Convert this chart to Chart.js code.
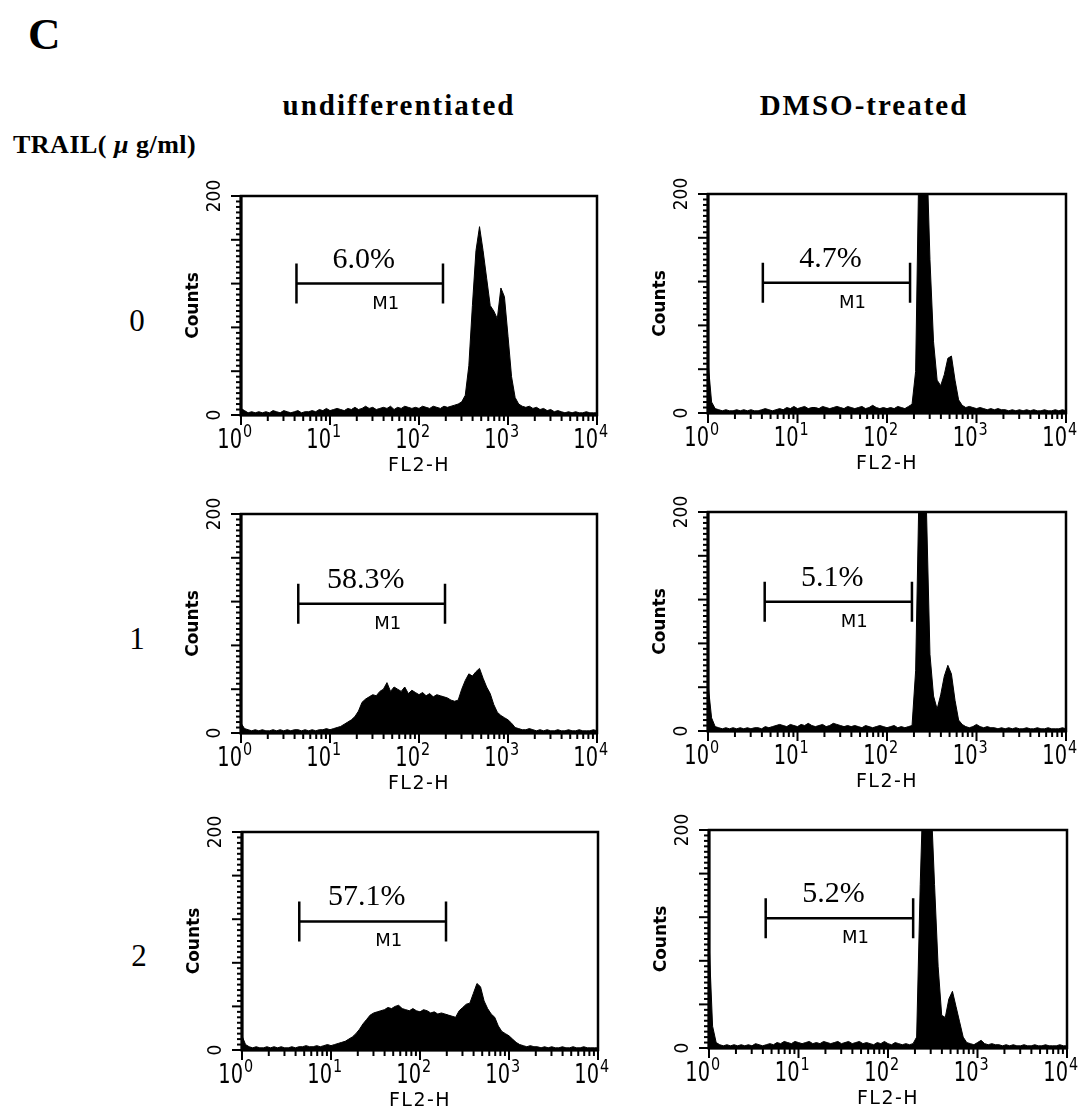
<!DOCTYPE html>
<html>
<head>
<meta charset="utf-8">
<script src="https://cdn.jsdelivr.net/npm/chart.js"></script>
<style>
  body { margin: 0; background: #fff; }
  #fig { position: relative; width: 1082px; height: 1107px; background: #fff; overflow: hidden; }
  .txt { position: absolute; color: #000; white-space: nowrap; line-height: 1; font-family: "Liberation Serif", "Times New Roman", serif; }
  .bold { font-weight: bold; }
  canvas { position: absolute; }
</style>
</head>
<body>
<div id="fig">
  <div class="txt bold" style="left:28px; top:12px; font-size:45px;">C</div>
  <div class="txt bold" style="left:399px; top:91px; font-size:29px; letter-spacing:2px; transform:translateX(-50%);">undifferentiated</div>
  <div class="txt bold" style="left:864px; top:91px; font-size:29px; letter-spacing:2px; transform:translateX(-50%);">DMSO-treated</div>
  <div class="txt bold" style="left:13px; top:132px; font-size:26px; letter-spacing:0.5px;">TRAIL( <i>μ</i> g/ml)</div>
  <div class="txt" style="left:137px; top:305px; font-size:31px; transform:translateX(-50%);">0</div>
  <div class="txt" style="left:137px; top:623px; font-size:31px; transform:translateX(-50%);">1</div>
  <div class="txt" style="left:139px; top:940px; font-size:31px; transform:translateX(-50%);">2</div>
</div>
<script>
// === Vị trí bin (log10 của FL2-H)
const binDecades = [
  0.00, 0.04, 0.08, 0.12, 0.16, 0.20, 0.24, 0.28, 0.32, 0.36,
  0.40, 0.44, 0.48, 0.52, 0.56, 0.60, 0.64, 0.68, 0.72, 0.76,
  0.80, 0.84, 0.88, 0.92, 0.96, 1.00, 1.04, 1.08, 1.12, 1.16,
  1.20, 1.24, 1.28, 1.32, 1.36, 1.40, 1.44, 1.48, 1.52, 1.56,
  1.60, 1.64, 1.68, 1.72, 1.76, 1.80, 1.84, 1.88, 1.92, 1.96,
  2.00, 2.04, 2.08, 2.12, 2.16, 2.20, 2.24, 2.28, 2.32, 2.36,
  2.40, 2.44, 2.48, 2.52, 2.56, 2.60, 2.64, 2.68, 2.72, 2.76,
  2.80, 2.84, 2.88, 2.92, 2.96, 3.00, 3.04, 3.08, 3.12, 3.16,
  3.20, 3.24, 3.28, 3.32, 3.36, 3.40, 3.44, 3.48, 3.52, 3.56,
  3.60, 3.64, 3.68, 3.72, 3.76, 3.80, 3.84, 3.88, 3.92, 3.96,
  4.00
];
const fl2h = binDecades.map((d) => Math.pow(10, d));

// === Counts
const countsUndiff0 = [
  6, 4, 2, 3, 2, 3, 2, 3, 2, 4,
  3, 2, 4, 3, 2, 3, 4, 2, 3, 3,
  4, 3, 5, 4, 6, 4, 5, 6, 5, 4,
  6, 5, 7, 5, 6, 8, 6, 7, 5, 6,
  7, 6, 8, 5, 7, 6, 8, 7, 6, 7,
  6, 8, 7, 6, 8, 7, 6, 8, 7, 8,
  9, 10, 12, 18, 45, 100, 150, 172, 150, 125,
  100, 95, 88, 116, 108, 72, 35, 16, 10, 8,
  7, 8, 6, 7, 5, 6, 4, 5, 3, 4,
  3, 2, 3, 2, 3, 2, 2, 3, 2, 2,
  2
];
const countsDmso0 = [
  47, 10, 4, 3, 2, 3, 2, 2, 3, 2,
  3, 2, 3, 2, 2, 3, 4, 3, 2, 3,
  4, 3, 5, 4, 6, 4, 5, 6, 4, 5,
  5, 4, 6, 5, 4, 5, 6, 5, 4, 6,
  5, 4, 5, 6, 4, 5, 7, 5, 4, 5,
  4, 5, 4, 6, 5, 4, 6, 8, 38, 250,
  290, 250, 140, 65, 30, 25, 35, 50, 52, 30,
  12, 7, 5, 6, 5, 4, 5, 4, 3, 4,
  3, 4, 3, 3, 2, 3, 2, 3, 2, 3,
  2, 3, 2, 2, 3, 2, 2, 3, 2, 3,
  2
];
const countsUndiff1 = [
  9, 4, 3, 2, 3, 2, 3, 2, 2, 3,
  2, 3, 2, 3, 2, 3, 3, 2, 3, 2,
  3, 2, 3, 3, 4, 3, 4, 5, 6, 8,
  10, 12, 15, 20, 28, 31, 33, 35, 34, 38,
  40, 46, 38, 42, 40, 38, 42, 36, 39, 37,
  35, 37, 34, 36, 33, 35, 34, 33, 32, 30,
  29, 30, 40, 48, 54, 52, 56, 59, 50, 42,
  36, 26, 19, 16, 14, 12, 9, 5, 4, 3,
  3, 4, 3, 2, 3, 2, 3, 2, 2, 3,
  2, 2, 3, 2, 2, 3, 2, 2, 2, 3,
  2
];
const countsDmso1 = [
  43, 12, 4, 3, 2, 3, 2, 3, 2, 3,
  2, 3, 2, 3, 3, 2, 4, 3, 4, 5,
  6, 5, 4, 6, 5, 4, 6, 5, 7, 5,
  4, 5, 6, 4, 5, 7, 6, 5, 4, 5,
  4, 5, 4, 3, 5, 4, 3, 4, 5, 4,
  3, 4, 5, 3, 4, 3, 4, 5, 55, 230,
  280, 205, 70, 32, 20, 33, 50, 60, 52, 28,
  10, 6, 4, 3, 4, 6, 4, 3, 4, 3,
  3, 2, 3, 2, 3, 2, 3, 2, 2, 3,
  2, 2, 3, 2, 2, 3, 2, 2, 2, 3,
  2
];
const countsUndiff2 = [
  13, 5, 3, 2, 3, 2, 2, 3, 2, 3,
  2, 3, 2, 2, 3, 2, 3, 3, 4, 3,
  3, 4, 3, 4, 5, 4, 5, 6, 7, 8,
  10, 12, 15, 19, 24, 28, 32, 34, 35, 36,
  37, 39, 38, 40, 41, 38, 37, 36, 38, 36,
  35, 37, 36, 34, 35, 33, 34, 33, 32, 31,
  30, 36, 39, 42, 43, 52, 61, 58, 45, 38,
  33, 30, 22, 17, 15, 13, 10, 7, 5, 4,
  3, 4, 3, 3, 2, 3, 2, 3, 2, 2,
  3, 2, 2, 3, 2, 2, 3, 2, 2, 2,
  2
];
const countsDmso2 = [
  99, 20, 5, 3, 2, 3, 2, 3, 2, 3,
  2, 3, 2, 4, 3, 2, 3, 4, 3, 5,
  4, 6, 5, 4, 6, 5, 4, 5, 6, 4,
  5, 4, 6, 5, 4, 5, 6, 4, 5, 6,
  4, 5, 6, 4, 5, 4, 3, 5, 4, 6,
  4, 3, 5, 4, 3, 4, 3, 4, 10, 150,
  260, 250, 230, 150, 75, 30, 28, 45, 52, 38,
  24, 10, 5, 4, 3, 5, 7, 4, 3, 4,
  3, 3, 2, 3, 2, 3, 2, 2, 3, 2,
  2, 3, 2, 2, 3, 2, 2, 2, 3, 2,
  2
];

// === Marker M1
const gatePercent = ["6.0%", "4.7%", "58.3%", "5.1%", "57.1%", "5.2%"];
const gateStart = [4.2, 4.1, 4.4, 4.3, 4.4, 4.3];
const gateEnd = [186, 181, 196, 190, 196, 191];
const gateLevel = [120, 119, 118, 118, 118, 119];

// === Nhãn trục
const xDecades = [1, 10, 100, 1000, 10000];
const xDecadeExp = ["0", "1", "2", "3", "4"];
const xMinorSteps = [2, 3, 4, 5, 6, 7, 8, 9];
const yLabelValues = [0, 200];
const yLabelTexts = ["0", "200"];

const panelCounts = [countsUndiff0, countsDmso0, countsUndiff1, countsDmso1, countsUndiff2, countsDmso2];

// vùng vẽ của từng ô (pixel trên trang)
const panelBoxes = [
  { left: 241, top: 196, right: 597, bottom: 415 },
  { left: 708, top: 194, right: 1066, bottom: 413 },
  { left: 241, top: 514, right: 597, bottom: 733 },
  { left: 708, top: 512, right: 1066, bottom: 731 },
  { left: 242, top: 832, right: 598, bottom: 1050 },
  { left: 709, top: 830, right: 1067, bottom: 1048 },
];
const PAD = { left: 70, top: 24, right: 26, bottom: 64 };
const SANS = '"DejaVu Sans", "Liberation Sans", sans-serif';
const SERIF = '"Liberation Serif", "Times New Roman", serif';

function squeezeText(ctx, text, x, y, sx, align) {
  ctx.save();
  ctx.translate(x, y);
  ctx.scale(sx, 1);
  ctx.textAlign = align;
  ctx.fillText(text, 0, 0);
  ctx.restore();
}

function makeAxesPlugin(idx) {
  return {
    id: "facsAxes" + idx,
    afterDraw(chart) {
      const ctx = chart.ctx;
      const a = chart.chartArea;
      const x = chart.scales.x;
      const y = chart.scales.y;
      ctx.save();
      ctx.strokeStyle = "#000";
      ctx.fillStyle = "#000";

      // khung
      ctx.lineWidth = 2.5;
      ctx.strokeRect(a.left, a.top, a.right - a.left, a.bottom - a.top);
      ctx.lineWidth = 3;
      ctx.beginPath();
      ctx.moveTo(a.left, a.top);
      ctx.lineTo(a.left, a.bottom);
      ctx.lineTo(a.right, a.bottom);
      ctx.stroke();

      // trục x: vạch log
      ctx.lineWidth = 2;
      xDecades.forEach((dec, k) => {
        const px = x.getPixelForValue(dec);
        ctx.beginPath();
        ctx.moveTo(px, a.bottom);
        ctx.lineTo(px, a.bottom + 10);
        ctx.stroke();
        if (k < xDecades.length - 1) {
          xMinorSteps.forEach((m) => {
            const pm = x.getPixelForValue(m * dec);
            ctx.beginPath();
            ctx.moveTo(pm, a.bottom);
            ctx.lineTo(pm, a.bottom + 6);
            ctx.stroke();
          });
        }
        ctx.textBaseline = "alphabetic";
        ctx.font = "27px " + SANS;
        squeezeText(ctx, "10", px + 1, a.bottom + 33, 0.72, "right");
        ctx.font = "18px " + SANS;
        squeezeText(ctx, xDecadeExp[k], px + 2, a.bottom + 22, 0.8, "left");
      });
      ctx.font = "19px " + SANS;
      ctx.textAlign = "center";
      if ("letterSpacing" in ctx) ctx.letterSpacing = "1.5px";
      ctx.fillText("FL2-H", (a.left + a.right) / 2, a.bottom + 56);
      if ("letterSpacing" in ctx) ctx.letterSpacing = "0px";

      // trục y
      ctx.lineWidth = 2;
      for (let v = 0; v <= 200; v += 5) {
        const py = y.getPixelForValue(v);
        const len = v % 40 === 0 ? 10 : 5;
        ctx.beginPath();
        ctx.moveTo(a.left, py);
        ctx.lineTo(a.left - len, py);
        ctx.stroke();
      }
      yLabelValues.forEach((v, k) => {
        const py = y.getPixelForValue(v);
        ctx.save();
        ctx.translate(a.left - 26, py);
        ctx.rotate(-Math.PI / 2);
        ctx.scale(0.85, 1);
        ctx.font = "20px " + SANS;
        ctx.textAlign = "center";
        ctx.textBaseline = "middle";
        ctx.fillText(yLabelTexts[k], 0, 0);
        ctx.restore();
      });
      ctx.save();
      ctx.translate(a.left - 47, (a.top + a.bottom) / 2);
      ctx.rotate(-Math.PI / 2);
      ctx.font = "bold 17px " + SANS;
      ctx.textAlign = "center";
      ctx.textBaseline = "middle";
      ctx.fillText("Counts", 0, 0);
      ctx.restore();

      // marker M1
      const gx0 = x.getPixelForValue(gateStart[idx]);
      const gx1 = x.getPixelForValue(gateEnd[idx]);
      const gy = y.getPixelForValue(gateLevel[idx]);
      ctx.lineWidth = 2.5;
      ctx.beginPath();
      ctx.moveTo(gx0, gy);
      ctx.lineTo(gx1, gy);
      ctx.moveTo(gx0, gy - 20);
      ctx.lineTo(gx0, gy + 20);
      ctx.moveTo(gx1, gy - 20);
      ctx.lineTo(gx1, gy + 20);
      ctx.stroke();
      const gc = (gx0 + gx1) / 2;
      ctx.font = "30px " + SERIF;
      ctx.textAlign = "center";
      ctx.textBaseline = "alphabetic";
      ctx.fillText(gatePercent[idx], gc - 6, gy - 16);
      ctx.font = "18px " + SANS;
      ctx.fillText("M1", gc + 16, gy + 25);
      ctx.restore();
    },
  };
}

const fig = document.getElementById("fig");
panelBoxes.forEach((box, idx) => {
  const cv = document.createElement("canvas");
  const w = box.right - box.left + PAD.left + PAD.right;
  const h = box.bottom - box.top + PAD.top + PAD.bottom;
  cv.width = w;
  cv.height = h;
  cv.style.left = box.left - PAD.left + "px";
  cv.style.top = box.top - PAD.top + "px";
  cv.style.width = w + "px";
  cv.style.height = h + "px";
  fig.appendChild(cv);

  new Chart(cv.getContext("2d"), {
    type: "line",
    data: {
      datasets: [
        {
          data: fl2h.map((fx, i) => ({ x: fx, y: panelCounts[idx][i] })),
          borderColor: "#000",
          backgroundColor: "#000",
          borderWidth: 1,
          fill: "origin",
          pointRadius: 0,
          tension: 0,
        },
      ],
    },
    options: {
      responsive: false,
      animation: false,
      devicePixelRatio: 1,
      layout: { padding: PAD },
      plugins: { legend: { display: false }, tooltip: { enabled: false } },
      scales: {
        x: { type: "logarithmic", min: 1, max: 10000, display: false },
        y: { type: "linear", min: 0, max: 200, display: false },
      },
    },
    plugins: [makeAxesPlugin(idx)],
  });
});
</script>
</body>
</html>
